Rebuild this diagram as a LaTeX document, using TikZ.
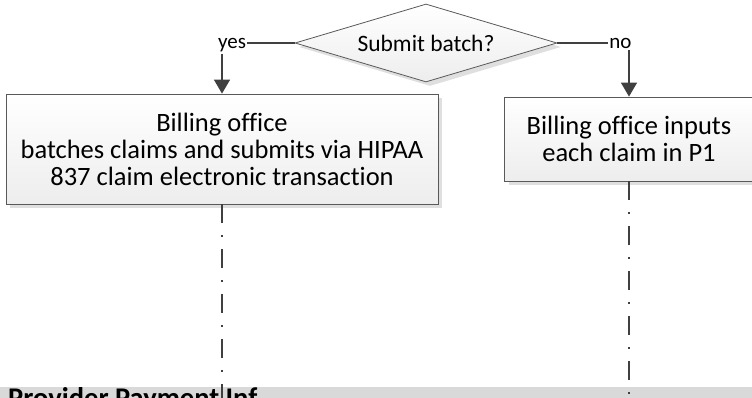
\documentclass[tikz,border=0pt]{standalone}
\usepackage{fontspec}
\setmainfont{Carlito}[Ligatures = NoCommon]
\usetikzlibrary{shapes.geometric, arrows.meta, shadows}

\tikzset{
	box/.style = {draw = gray!70!black, line width = 0.8pt, top color = white, bottom color = gray!14,
		drop shadow = {shadow xshift = 4pt, shadow yshift = -4pt, fill = gray!25, opacity = 1},
		align = center, inner sep = 0pt, font = \fontsize{26.5}{27}\selectfont},
	decision/.style = {box, diamond, aspect = 3.36, minimum width = 262pt, minimum height = 78pt,
		font = \fontsize{23.5}{26}\selectfont},
	lbl/.style = {inner sep = 1pt, font = \fontsize{21}{24}\selectfont},
	flow/.style = {draw = black!75, line width = 1.5pt},
	arrow/.style = {flow, -{Triangle[length = 14pt, width = 16pt]}},
	lifeline/.style = {flow, dash pattern = on 19pt off 12pt on 1.5pt off 12.5pt},
	lane/.style = {fill = gray!30, inner sep = 0pt, anchor = north west}
}

\begin{document}
\begin{tikzpicture}[x = 1pt, y = -1pt]
		\useasboundingbox (0,0) rectangle (752,398);
		\clip (0,0) rectangle (752,398);
		
		% swimlane header
		\node [lane, minimum width = 752pt, minimum height = 20pt] (lane) at (0,387) {};
		\node [anchor = base west, inner sep = 0pt, font = \bfseries\fontsize{28.5}{32}\selectfont] (lane title) at (8,407.5) {Provider Payment Inf};
		\coordinate (lane bottom) at (0,400);
		
		% decision and the two branches
		\node [decision] (batch) at (426,43) {Submit batch?};
		\node [box, minimum width = 432pt, minimum height = 110pt] (batch box) at (222,149)
			{Billing office\\batches claims and submits via HIPAA\\837 claim electronic transaction};
		\node [box, minimum width = 249pt, minimum height = 84pt] (input box) at (629,139)
			{Billing office inputs\\each claim in P1};
		
		\node [lbl, anchor = base] (yes) at (232,49) {yes};
		\node [lbl, anchor = base] (no) at (620.5,49) {no};
		
		\draw [flow] (batch.west) -- (batch.west -| yes.east);
		\draw [flow] (batch.east) -- (batch.east -| no.west);
		\draw [arrow] (yes.south -| batch box.north) -- (batch box.north);
		\draw [arrow] (no.south -| input box.north) -- (input box.north);
		
		% lifelines into the lane
		\draw [lifeline] (batch box.south) -- (batch box.south |- lane bottom);
		\draw [lifeline] (input box.south) -- (input box.south |- lane bottom);
	\end{tikzpicture}
\end{document}
